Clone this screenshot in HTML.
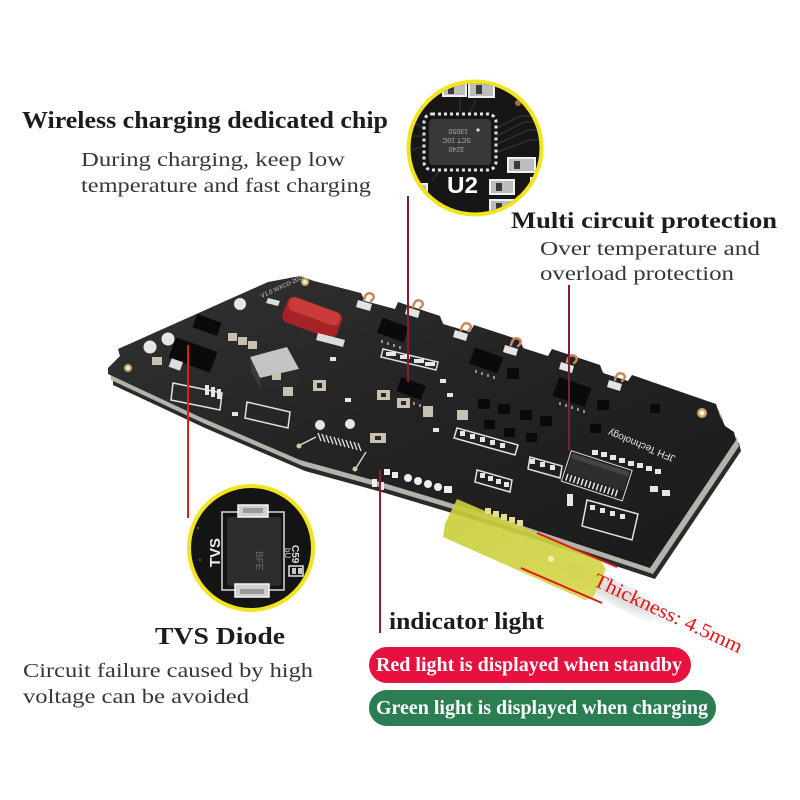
<!DOCTYPE html>
<html>
<head>
<meta charset="utf-8">
<style>
html,body{margin:0;padding:0;background:#fff;}
svg{display:block}
.h{font-family:"Liberation Serif",serif;font-weight:bold;fill:#1c1c1c}
.s{font-family:"Liberation Serif",serif;fill:#363636}
.ss{font-family:"Liberation Sans",sans-serif}
</style>
</head>
<body>
<svg width="800" height="800" viewBox="0 0 800 800" xmlns="http://www.w3.org/2000/svg">
<defs>
<linearGradient id="bg" x1="0" y1="0" x2="1" y2="1">
<stop offset="0" stop-color="#323232"/><stop offset="0.45" stop-color="#242424"/><stop offset="1" stop-color="#1a1a1a"/>
</linearGradient>
<linearGradient id="tape" x1="0" y1="0" x2="1" y2="1">
<stop offset="0" stop-color="#c7cc3a"/><stop offset="1" stop-color="#d6d84a"/>
</linearGradient>
<clipPath id="c1"><circle cx="475" cy="148" r="64.5"/></clipPath>
<clipPath id="c2"><circle cx="251" cy="548" r="60"/></clipPath>
<filter id="blur"><feGaussianBlur stdDeviation="5"/></filter>
<path id="board" d="M108,368 L120,356 L118,349 L268,282 L300,276 L314,281 L361,293 L365,301 L395,309 L398,302 L440,316 L443,324 L470,332 L474,325 L520,340 L523,348 L548,356 L552,349 L600,365 L603,373 L628,381 L632,375 L716,404 L720,416 L725,426 L734,432 L736,440 L650,568 L520,525 L457,505 L380,482 L300,460 L200,417 L108,374 Z"/>
</defs>
<rect width="800" height="800" fill="#fff"/>

<!-- soft shadow -->
<ellipse cx="610" cy="590" rx="55" ry="10" transform="rotate(28 610 590)" fill="#999" opacity="0.35" filter="url(#blur)"/>

<!-- board layers -->
<use href="#board" transform="translate(5,11)" fill="#2a2a2a"/>
<use href="#board" transform="translate(3,6)" fill="#b4b2ac"/>
<use href="#board" fill="url(#bg)"/>

<!-- holes -->
<circle cx="128" cy="368" r="4" fill="#c9a860"/><circle cx="128" cy="368" r="2" fill="#eee"/>
<circle cx="305" cy="282" r="4" fill="#c9a860"/><circle cx="305" cy="282" r="2" fill="#eee"/>
<circle cx="702" cy="413" r="5" fill="#c9a860"/><circle cx="702" cy="413" r="2.5" fill="#f2f2f2"/>

<!-- back edge white tabs with copper -->
<g fill="#e4e4e4">
<polygon points="358,300 372,304 370,311 356,307"/>
<polygon points="407,307 420,311 418,318 405,314"/>
<polygon points="455,330 468,334 466,341 453,337"/>
<polygon points="505,345 518,349 516,356 503,352"/>
<polygon points="561,362 574,366 572,373 559,369"/>
<polygon points="609,380 622,384 620,391 607,387"/>
</g>
<g fill="none" stroke="#c9865a" stroke-width="2.5" stroke-linecap="round">
<path d="M364,300 q2,-9 8,-6 q4,3 -1,7"/>
<path d="M413,307 q2,-9 8,-6 q4,3 -1,7"/>
<path d="M461,330 q2,-9 8,-6 q4,3 -1,7"/>
<path d="M511,345 q2,-9 8,-6 q4,3 -1,7"/>
<path d="M567,362 q2,-9 8,-6 q4,3 -1,7"/>
<path d="M615,380 q2,-9 8,-6 q4,3 -1,7"/>
</g>

<!-- red capacitor -->
<g transform="rotate(20 312 318)">
<rect x="283" y="304" width="58" height="27" rx="7" fill="#a52226"/>
<rect x="285" y="304" width="54" height="14" rx="6" fill="#c93b3b"/>
</g>
<polygon points="318,333 345,340 343,347 316,340" fill="#dcdcdc"/>
<polygon points="268,298 280,301 278,306 266,303" fill="#dcdcdc"/>

<!-- white round pads -->
<g fill="#e6e6e6">
<circle cx="150" cy="347" r="6.5"/><circle cx="168" cy="339" r="6.5"/>
<circle cx="240" cy="304" r="6"/><circle cx="320" cy="425" r="5"/><circle cx="350" cy="424" r="5"/>
</g>

<!-- inductor -->
<polygon points="250,357 287,347 299,369 260,378" fill="#c4c4c4"/>
<polygon points="260,378 299,369 299,382 261,391" fill="#2a2a2a"/>
<polygon points="250,357 260,378 261,391 251,371" fill="#3a3a3a"/>

<!-- black chips -->
<g fill="#0a0a0a">
<rect x="194" y="318" width="26" height="14" transform="rotate(20 207 325)"/>
<rect x="171" y="344" width="44" height="22" rx="2" transform="rotate(20 193 355)"/>
<rect x="379" y="322" width="28" height="16" transform="rotate(20 393 330)"/>
<rect x="398" y="381" width="26" height="15" transform="rotate(20 411 389)"/>
<rect x="471" y="352" width="30" height="17" transform="rotate(20 486 361)"/>
<rect x="555" y="382" width="34" height="20" transform="rotate(20 572 392)"/>
<rect x="507" y="368" width="12" height="11"/>
<rect x="597" y="400" width="12" height="10"/>
<rect x="650" y="404" width="10" height="9"/>
<rect x="478" y="399" width="12" height="10"/><rect x="498" y="404" width="12" height="10"/>
<rect x="520" y="410" width="12" height="10"/><rect x="540" y="416" width="12" height="10"/>
<rect x="484" y="420" width="11" height="9"/><rect x="504" y="428" width="11" height="9"/>
<rect x="526" y="433" width="11" height="9"/><rect x="590" y="424" width="11" height="9"/>
</g>
<rect x="170" y="360" width="12" height="9" fill="#ddd" transform="rotate(20 176 364)"/>
<!-- chip pins -->
<g stroke="#d8d8d8" stroke-width="1.2">
<path d="M382,340 v3 M388,342 v3 M394,344 v3 M400,346 v3"/>
<path d="M476,370 v3 M482,372 v3 M488,374 v3 M494,376 v3"/>
<path d="M560,402 v3 M566,404 v3 M572,406 v3 M578,408 v3 M584,410 v3"/>
<path d="M402,398 v3 M408,400 v3 M414,402 v3 M420,404 v3"/>
</g>

<!-- big IC -->
<g transform="rotate(18 598 472)">
<rect x="568" y="462" width="60" height="20" fill="#2e2e2e"/>
<rect x="568" y="462" width="60" height="5" fill="#444"/>
<path d="M570,483 v7 M574,483 v7 M578,483 v7 M582,483 v7 M586,483 v7 M590,483 v7 M594,483 v7 M598,483 v7 M602,483 v7 M606,483 v7 M610,483 v7 M614,483 v7 M618,483 v7 M622,483 v7" stroke="#e8e8e8" stroke-width="1.5"/>
<rect x="566" y="460" width="64" height="32" fill="none" stroke="#ddd" stroke-width="1"/>
</g>

<!-- beige SMD parts -->
<g>
<rect x="228" y="333" width="9" height="8" fill="#c8c0b0"/><rect x="238" y="337" width="9" height="8" fill="#c8c0b0"/><rect x="248" y="341" width="9" height="8" fill="#c8c0b0"/>
<rect x="313" y="380" width="13" height="11" fill="#c8c0b0"/>
<rect x="377" y="390" width="13" height="10" fill="#c8c0b0"/>
<rect x="397" y="398" width="13" height="10" fill="#c8c0b0"/>
<rect x="423" y="406" width="10" height="11" fill="#c8c0b0"/>
<rect x="457" y="410" width="11" height="10" fill="#c8c0b0"/>
<rect x="370" y="433" width="16" height="10" fill="#c8c0b0"/>
<rect x="152" y="357" width="10" height="8" fill="#c8c0b0"/>
<rect x="283" y="387" width="10" height="9" fill="#c8c0b0"/>
<rect x="272" y="372" width="9" height="8" fill="#c8c0b0"/>
</g>
<g fill="#2a2520">
<rect x="317" y="383" width="5" height="5"/><rect x="381" y="393" width="5" height="4"/><rect x="401" y="401" width="5" height="4"/><rect x="375" y="436" width="6" height="4"/>
</g>

<!-- silkscreen white markings -->
<g fill="none" stroke="#e2e2e2" stroke-width="1.5">
<polygon points="173,383 222,393 220,410 171,400"/>
<polygon points="247,402 290,412 288,428 245,418"/>
<polygon points="383,349 438,362 436,370 381,357"/>
<polygon points="477,470 512,480 510,492 475,482"/>
<polygon points="587,500 638,514 632,540 582,526"/>
<polygon points="457,428 518,445 515,455 454,438"/>
<polygon points="530,457 562,466 560,478 528,469"/>
</g>
<g fill="#e6e6e6">
<rect x="386" y="352" width="10" height="4"/><rect x="400" y="355" width="10" height="4"/><rect x="414" y="359" width="10" height="4"/><rect x="425" y="362" width="10" height="4"/>
<rect x="592" y="450" width="6" height="5"/><rect x="601" y="452" width="6" height="5"/><rect x="610" y="455" width="6" height="5"/><rect x="619" y="458" width="6" height="5"/><rect x="628" y="461" width="6" height="5"/><rect x="637" y="463" width="6" height="5"/><rect x="646" y="466" width="6" height="5"/><rect x="655" y="469" width="6" height="5"/>
<rect x="650" y="486" width="8" height="6"/><rect x="662" y="490" width="8" height="6"/>
<rect x="567" y="494" width="6" height="12"/>
<rect x="480" y="473" width="5" height="5"/><rect x="488" y="476" width="5" height="5"/><rect x="496" y="479" width="5" height="5"/><rect x="504" y="482" width="5" height="5"/>
<rect x="460" y="431" width="5" height="5"/><rect x="470" y="434" width="5" height="5"/><rect x="480" y="437" width="5" height="5"/><rect x="490" y="440" width="5" height="5"/><rect x="500" y="443" width="5" height="5"/>
<rect x="590" y="505" width="5" height="5"/><rect x="600" y="508" width="5" height="5"/><rect x="610" y="511" width="5" height="5"/><rect x="620" y="514" width="5" height="5"/>
<rect x="205" y="385" width="4" height="10"/><rect x="211" y="387" width="4" height="10"/><rect x="217" y="389" width="4" height="10"/>
<rect x="530" y="459" width="5" height="5"/><rect x="540" y="462" width="5" height="5"/><rect x="550" y="465" width="5" height="5"/>
<rect x="440" y="379" width="6" height="4"/><rect x="447" y="393" width="6" height="4"/><rect x="433" y="428" width="6" height="4"/>
<rect x="330" y="357" width="6" height="4"/><rect x="345" y="398" width="6" height="4"/><rect x="232" y="412" width="6" height="4"/>
</g>
<!-- connector -->
<g stroke="#e0e0e0" stroke-width="1.3">
<path d="M318,433 l3,8 M322,434 l3,8 M326,435 l3,8 M330,436 l3,8 M334,437 l3,8 M338,438 l3,8 M342,439 l3,8 M346,440 l3,8 M350,441 l3,8 M354,442 l3,8 M358,443 l3,8"/>
<path d="M300,445 L316,437 M366,452 L356,468" fill="none"/>
</g>
<circle cx="299" cy="446" r="2.5" fill="#d8c8a0"/><circle cx="355" cy="469" r="2.5" fill="#d8c8a0"/>

<!-- LED row -->
<g fill="#eeeeee">
<rect x="384" y="469" width="6" height="6"/><rect x="392" y="472" width="6" height="6"/>
<circle cx="408" cy="478" r="4"/><circle cx="418" cy="481" r="4"/><circle cx="428" cy="484" r="4"/><circle cx="438" cy="487" r="4"/>
<rect x="444" y="486" width="8" height="7"/>
<rect x="372" y="479" width="5" height="8"/><rect x="379" y="482" width="5" height="8"/>
</g>

<!-- board text -->
<text class="ss" transform="translate(676,456) rotate(202)" font-size="10" fill="#e6e6e6">JFH Technology</text>
<text class="ss" transform="translate(262,298) rotate(-25)" font-size="6" fill="#ccc">V1.0 WXCD-2020</text>

<!-- yellow tape -->
<polygon points="457,499 600,560 606,569 593,598 585,600 443,537 445,524" fill="url(#tape)" opacity="0.92"/>
<g fill="#e8dc90">
<rect x="485" y="508" width="6" height="6"/><rect x="493" y="511" width="6" height="6"/><rect x="501" y="514" width="6" height="6"/><rect x="509" y="517" width="6" height="6"/><rect x="517" y="520" width="6" height="6"/>
</g>
<circle cx="551" cy="559" r="3" fill="#f3f0b0"/>
<line x1="537" y1="533" x2="617" y2="567" stroke="#e01818" stroke-width="2"/>
<line x1="521" y1="568" x2="602" y2="603" stroke="#e01818" stroke-width="2"/>

<!-- connector lines -->
<line x1="408" y1="196" x2="408" y2="382" stroke="#8c1a2b" stroke-width="2"/>
<line x1="569" y1="285" x2="569" y2="450" stroke="#8c1a2b" stroke-width="2"/>
<line x1="188" y1="345" x2="188" y2="518" stroke="#e31b1b" stroke-width="2"/>
<line x1="380" y1="470" x2="380" y2="633" stroke="#9a1a2c" stroke-width="2"/>

<!-- top zoom circle -->
<circle cx="475" cy="148" r="68.5" fill="#f2e41e"/>
<circle cx="475" cy="148" r="64.5" fill="#161616"/>
<g clip-path="url(#c1)">
<g stroke="#2e2e2e" stroke-width="1.6" fill="none">
<path d="M497,128 L520,116 L545,116 M497,136 L524,122 L545,122 M497,144 L528,130 L545,130 M497,152 L530,140 L545,140"/>
<path d="M424,128 L412,122 L405,122 M424,136 L410,136 M424,146 L412,150 L405,150 M440,170 L432,180"/>
<path d="M460,112 L460,98 M470,112 L476,100"/>
</g>
<rect x="424" y="114" width="72" height="56" rx="8" fill="none" stroke="#e2e2e2" stroke-width="3" stroke-dasharray="3 3"/>
<rect x="429" y="119" width="62" height="46" rx="4" fill="#383838"/>
<g class="ss" font-size="7" fill="#a8a8a8">
<text transform="translate(468,129) rotate(180)">13050</text>
<text transform="translate(471,138) rotate(180)">SCT 10C</text>
<text transform="translate(464,147) rotate(180)">3240</text>
</g>
<circle cx="478" cy="130" r="1.6" fill="#ddd"/>
<text class="ss" x="447" y="193" font-size="23" font-weight="bold" fill="#fff" textLength="31" lengthAdjust="spacingAndGlyphs">U2</text>
<g fill="#bdbdbd" stroke="#f0f0f0" stroke-width="2">
<rect x="443" y="82" width="23" height="14"/><rect x="469" y="82" width="25" height="15"/>
<rect x="508" y="158" width="27" height="14"/>
<rect x="490" y="180" width="24" height="14"/><rect x="490" y="200" width="23" height="13"/>
<rect x="410" y="184" width="17" height="18"/>
<rect x="531" y="178" width="9" height="18"/>
</g>
<g fill="#3a3a3a">
<rect x="448" y="85" width="6" height="9"/><rect x="476" y="85" width="6" height="9"/>
<rect x="514" y="161" width="6" height="8"/><rect x="496" y="183" width="6" height="8"/><rect x="496" y="203" width="6" height="7"/>
</g>
<circle cx="518" cy="103" r="3" fill="#b06a3a"/>
</g>

<!-- TVS zoom circle -->
<circle cx="251" cy="548" r="64" fill="#f2e41e"/>
<circle cx="251" cy="548" r="60" fill="#141414"/>
<g clip-path="url(#c2)">
<rect x="222" y="512" width="62" height="78" fill="none" stroke="#d8d8d8" stroke-width="1.5"/>
<rect x="227" y="517" width="54" height="69" rx="3" fill="#2d2d2d"/>
<rect x="238" y="505" width="30" height="12" fill="#cfcfcf" stroke="#f4f4f4" stroke-width="1.5"/>
<rect x="235" y="584" width="34" height="13" fill="#cfcfcf" stroke="#f4f4f4" stroke-width="1.5"/>
<rect x="243" y="508" width="20" height="5" fill="#9a9a9a"/>
<rect x="240" y="589" width="24" height="5" fill="#9a9a9a"/>
<text class="ss" transform="translate(220,567) rotate(-90)" font-size="15" font-weight="bold" fill="#eeeeee" textLength="29" lengthAdjust="spacingAndGlyphs">TVS</text>
<text class="ss" transform="translate(256,551) rotate(90)" font-size="10" fill="#6a6a6a">BFE</text>
<text class="ss" transform="translate(292,545) rotate(90)" font-size="10" font-weight="bold" fill="#e0e0e0">C59</text>
<text class="ss" transform="translate(285,548) rotate(90)" font-size="8" fill="#d0d0d0">bU</text>
<rect x="289" y="566" width="14" height="10" fill="none" stroke="#e0e0e0" stroke-width="1.5"/>
<rect x="292" y="568" width="4" height="6" fill="#c8c8c8"/><rect x="298" y="568" width="4" height="6" fill="#c8c8c8"/>
<circle cx="198" cy="528" r="1.2" fill="#555"/><circle cx="200" cy="560" r="1.2" fill="#555"/>
</g>

<!-- texts -->
<text class="h" x="22" y="128" font-size="24" textLength="366" lengthAdjust="spacingAndGlyphs">Wireless charging dedicated chip</text>
<text class="s" x="81" y="166" font-size="20" textLength="264" lengthAdjust="spacingAndGlyphs">During charging, keep low</text>
<text class="s" x="81" y="192" font-size="20" textLength="290" lengthAdjust="spacingAndGlyphs">temperature and fast charging</text>
<text class="h" x="511" y="228" font-size="23" textLength="266" lengthAdjust="spacingAndGlyphs">Multi circuit protection</text>
<text class="s" x="540" y="255" font-size="20" textLength="220" lengthAdjust="spacingAndGlyphs">Over temperature and</text>
<text class="s" x="540" y="280" font-size="20" textLength="194" lengthAdjust="spacingAndGlyphs">overload protection</text>
<text class="h" x="155" y="644" font-size="24" textLength="130" lengthAdjust="spacingAndGlyphs">TVS Diode</text>
<text class="s" x="23" y="677" font-size="20" textLength="290" lengthAdjust="spacingAndGlyphs">Circuit failure caused by high</text>
<text class="s" x="23" y="703" font-size="20" textLength="226" lengthAdjust="spacingAndGlyphs">voltage can be avoided</text>
<text class="h" x="389" y="629" font-size="24" textLength="155" lengthAdjust="spacingAndGlyphs">indicator light</text>

<!-- pills -->
<rect x="369" y="647" width="322" height="36" rx="18" fill="#e8103e"/>
<text x="376" y="671" font-family="Liberation Serif, serif" font-weight="bold" font-size="20" fill="#fff" textLength="306" lengthAdjust="spacingAndGlyphs">Red light is displayed when standby</text>
<rect x="369" y="690" width="347" height="36" rx="18" fill="#2b7d52"/>
<text x="376" y="714" font-family="Liberation Serif, serif" font-weight="bold" font-size="20" fill="#fff" textLength="332" lengthAdjust="spacingAndGlyphs">Green light is displayed when charging</text>

<!-- thickness -->
<text transform="translate(592,585) rotate(25)" font-family="Liberation Serif, serif" font-size="20" fill="#e81212" textLength="162" lengthAdjust="spacingAndGlyphs">Thickness: 4.5mm</text>
</svg>
</body>
</html>
